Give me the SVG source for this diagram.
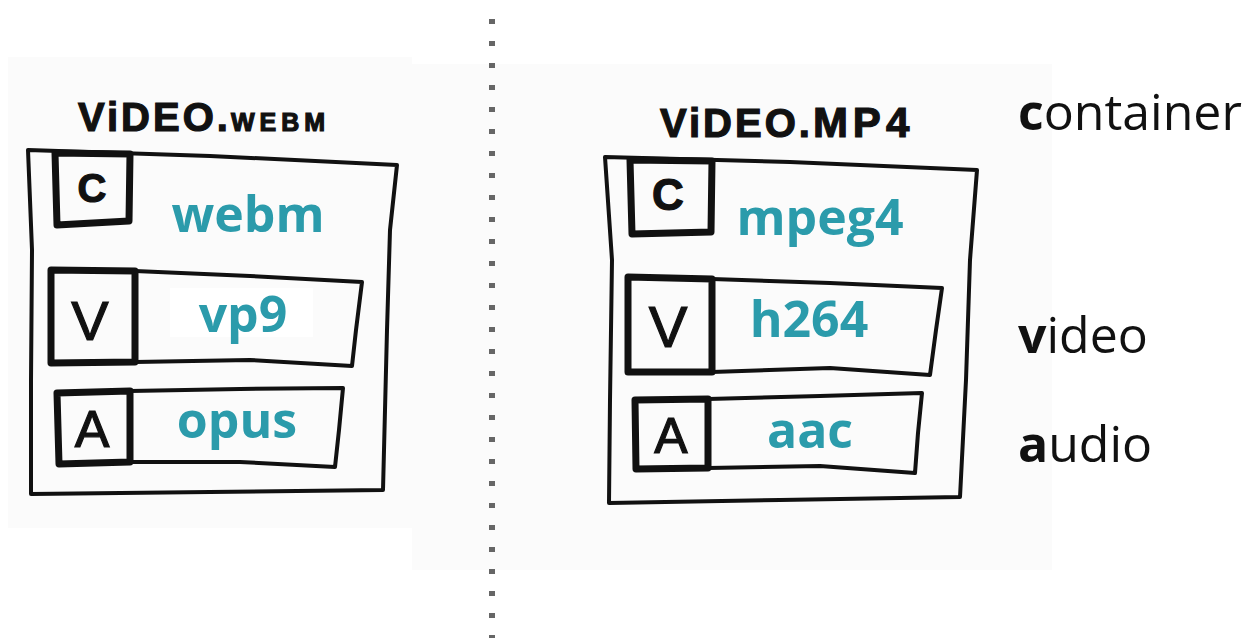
<svg xmlns="http://www.w3.org/2000/svg" width="1251" height="638" viewBox="0 0 1251 638">
  <style>
    .ink { fill: none; stroke: #111; stroke-width: 4; stroke-linejoin: round; stroke-linecap: round; }
    .ink-thick { fill: none; stroke: #111; stroke-width: 7; stroke-linejoin: round; stroke-linecap: round; }
    .title { font-family: "Liberation Sans", Arial, sans-serif; font-weight: 700; fill: #111; stroke: #111; stroke-width: 1.2; letter-spacing: 3px; }
    .tag { font-family: "Liberation Sans", Arial, sans-serif; fill: #111; text-anchor: middle; stroke: #111; stroke-width: 1.2; }
    .codec { font-family: "Open Sans", "Noto Sans", sans-serif; font-weight: 700; font-size: 50px; fill: #2b9bab; text-anchor: middle; }
    .legend { font-family: "Open Sans", "Noto Sans", sans-serif; font-size: 50px; fill: #111; }
    .legend tspan.key { font-weight: 700; }
    .dot { fill: #666; }
  </style>

  <!-- paper panels -->
  <rect x="0" y="0" width="1251" height="638" fill="#ffffff"/>
  <rect x="8" y="57" width="404" height="471" fill="#fbfbfb"/>
  <rect x="412" y="64" width="640" height="506" fill="#fbfbfb"/>

  <!-- dotted divider -->
  <g id="divider">
    <rect class="dot" x="489" y="19" width="6" height="5"/>
    <rect class="dot" x="489" y="41" width="6" height="5"/>
    <rect class="dot" x="489" y="63" width="6" height="5"/>
    <rect class="dot" x="489" y="85" width="6" height="5"/>
    <rect class="dot" x="489" y="107" width="6" height="5"/>
    <rect class="dot" x="489" y="129" width="6" height="5"/>
    <rect class="dot" x="489" y="151" width="6" height="5"/>
    <rect class="dot" x="489" y="173" width="6" height="5"/>
    <rect class="dot" x="489" y="195" width="6" height="5"/>
    <rect class="dot" x="489" y="217" width="6" height="5"/>
    <rect class="dot" x="489" y="239" width="6" height="5"/>
    <rect class="dot" x="489" y="261" width="6" height="5"/>
    <rect class="dot" x="489" y="283" width="6" height="5"/>
    <rect class="dot" x="489" y="305" width="6" height="5"/>
    <rect class="dot" x="489" y="327" width="6" height="5"/>
    <rect class="dot" x="489" y="349" width="6" height="5"/>
    <rect class="dot" x="489" y="371" width="6" height="5"/>
    <rect class="dot" x="489" y="393" width="6" height="5"/>
    <rect class="dot" x="489" y="415" width="6" height="5"/>
    <rect class="dot" x="489" y="437" width="6" height="5"/>
    <rect class="dot" x="489" y="459" width="6" height="5"/>
    <rect class="dot" x="489" y="481" width="6" height="5"/>
    <rect class="dot" x="489" y="503" width="6" height="5"/>
    <rect class="dot" x="489" y="525" width="6" height="5"/>
    <rect class="dot" x="489" y="547" width="6" height="5"/>
    <rect class="dot" x="489" y="569" width="6" height="5"/>
    <rect class="dot" x="489" y="591" width="6" height="5"/>
    <rect class="dot" x="489" y="613" width="6" height="5"/>
    <rect class="dot" x="489" y="635" width="6" height="5"/>
  </g>

  <!-- webm file -->
  <g id="file-webm">
    <text class="title" x="78" y="131" font-size="40">ViDEO.<tspan font-size="25" letter-spacing="5">WEBM</tspan></text>
    <path class="ink" d="M28,150 L210,156 L397,165 L390,230 L387,330 L383,490 L210,492 L31,494 L31,380 L32,250 Z"/>
    <!-- container row -->
    <path class="ink-thick" d="M55,153 L130,154 L129,221 L57,225 Z"/>
    <text class="tag" x="92" y="202" font-size="40" font-weight="700">C</text>
    <text class="codec" x="248" y="232">webm</text>
    <!-- video row -->
    <rect x="170" y="288" width="143" height="49" fill="#ffffff"/>
    <path class="ink" d="M135,271 L250,276 L362,282 L356,330 L352,366 L250,360 L135,362"/>
    <path class="ink-thick" d="M51,270 L135,271 L135,362 L51,363 Z"/>
    <text class="tag" x="90" y="340" font-size="56">V</text>
    <text class="codec" x="243" y="332">vp9</text>
    <!-- audio row -->
    <path class="ink" d="M130,391 L240,389 L343,388 L339,430 L335,467 L240,462 L130,462"/>
    <path class="ink-thick" d="M57,393 L130,391 L130,462 L59,464 Z"/>
    <text class="tag" x="92" y="447" font-size="52">A</text>
    <text class="codec" x="237" y="438">opus</text>
  </g>

  <!-- mp4 file -->
  <g id="file-mp4">
    <text class="title" x="660" y="137" font-size="40">ViDEO.<tspan font-size="42" letter-spacing="5">MP4</tspan></text>
    <path class="ink" d="M605,157 L790,162 L977,170 L970,260 L966,380 L960,497 L780,500 L609,503 L610,400 L612,260 Z"/>
    <!-- container row -->
    <path class="ink-thick" d="M630,160 L712,161 L711,232 L632,234 Z"/>
    <text class="tag" x="668" y="210" font-size="44" font-weight="700">C</text>
    <text class="codec" x="820" y="235">mpeg4</text>
    <!-- video row -->
    <path class="ink" d="M712,279 L830,283 L942,288 L936,330 L930,375 L830,368 L712,372"/>
    <path class="ink-thick" d="M628,277 L712,279 L712,372 L628,372 Z"/>
    <text class="tag" x="668" y="347" font-size="58">V</text>
    <text class="codec" x="809" y="337">h264</text>
    <!-- audio row -->
    <path class="ink" d="M708,399 L820,396 L922,393 L918,433 L915,473 L820,466 L708,468"/>
    <path class="ink-thick" d="M635,400 L708,399 L708,468 L636,469 Z"/>
    <text class="tag" x="671" y="453" font-size="50">A</text>
    <text class="codec" x="810" y="448">aac</text>
  </g>

  <!-- legend -->
  <g id="legend">
    <text class="legend" x="1018" y="130"><tspan class="key">c</tspan>ontainer</text>
    <text class="legend" x="1018" y="353"><tspan class="key">v</tspan>ideo</text>
    <text class="legend" x="1018" y="462"><tspan class="key">a</tspan>udio</text>
  </g>
</svg>
